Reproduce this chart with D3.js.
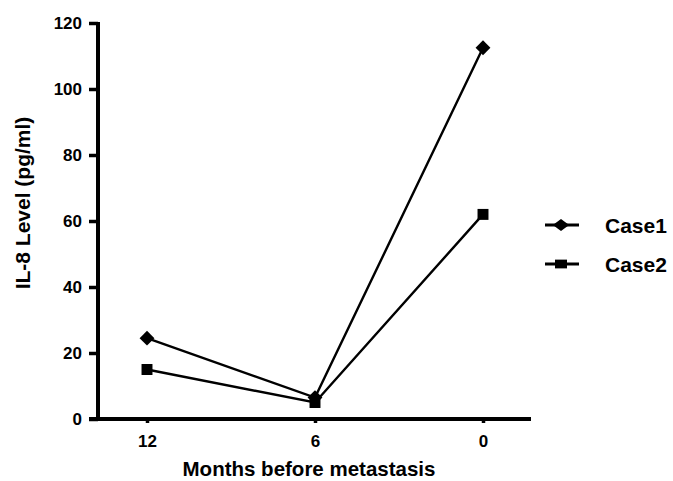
<!DOCTYPE html>
<html>
<head>
<meta charset="utf-8">
<script src="https://cdn.jsdelivr.net/npm/d3@7"></script>
<style>
  body { margin:0; background:#fff; }
  text { font-family: "Liberation Sans", Arial, sans-serif; font-weight: bold; fill:#000; }
  .axis .domain { stroke-width: 4px; stroke: #000; }
  .axis .tick line { stroke-width: 3.5px; stroke: #000; }
  .axis .tick text { font-size: 17px; }
</style>
</head>
<body>
<svg id="chart" width="673" height="481"></svg>
<script>
var months = ["12", "6", "0"];
var case1 = [24.5, 6.5, 112.5];
var case2 = [15, 5, 62];
var yTicks = [0, 20, 40, 60, 80, 100, 120];
var seriesNames = ["Case1", "Case2"];

var svg = d3.select("#chart");

var x = d3.scalePoint().domain(months).range([147, 483]);
var y = d3.scaleLinear().domain([0, 120]).range([419, 23]);

// y axis
var yAxis = svg.append("g").attr("class", "axis").attr("transform", "translate(98,0)")
  .call(d3.axisLeft(y).tickValues(yTicks).tickSize(9).tickPadding(7));
yAxis.select(".domain").attr("d", "M0," + (y(120) - 1) + "V" + y(0));

// x axis
var xAxis = svg.append("g").attr("class", "axis").attr("transform", "translate(0,419)")
  .call(d3.axisBottom(x).tickSize(4).tickPadding(12));
xAxis.select(".domain").attr("d", "M89,0H531");

svg.append("text").attr("x", 309).attr("y", 476).attr("text-anchor", "middle")
  .style("font-size", "20.5px").text("Months before metastasis");
svg.append("text").attr("transform", "translate(30,203) rotate(-90)").attr("text-anchor", "middle")
  .style("font-size", "21px").text("IL-8 Level (pg/ml)");

var line = d3.line().x(function(d, i){ return x(months[i]); }).y(function(d){ return y(d); });

var diamond = d3.symbol().type(d3.symbolDiamond2).size(140);
var square = d3.symbol().type(d3.symbolSquare).size(120);

function drawSeries(vals, sym){
  svg.append("path").datum(vals).attr("d", line)
    .style("fill", "none").style("stroke", "#000").style("stroke-width", 2.4);
  svg.selectAll(null).data(vals).enter().append("path")
    .attr("transform", function(d, i){ return "translate(" + x(months[i]) + "," + y(d) + ")"; })
    .attr("d", sym).style("fill", "#000");
}
drawSeries(case1, diamond);
drawSeries(case2, square);

// legend
var leg = svg.append("g");
[diamond, square].forEach(function(sym, i){
  var ly = 225 + i * 39;
  leg.append("line").attr("x1", 545).attr("x2", 579).attr("y1", ly).attr("y2", ly)
    .style("stroke", "#000").style("stroke-width", 3);
  leg.append("path").attr("transform", "translate(561," + ly + ") scale(1.1,0.8)").attr("d", sym).style("fill", "#000");
  leg.append("text").attr("x", 605).attr("y", ly + 7.5).style("font-size", "21px").text(seriesNames[i]);
});
</script>
</body>
</html>
